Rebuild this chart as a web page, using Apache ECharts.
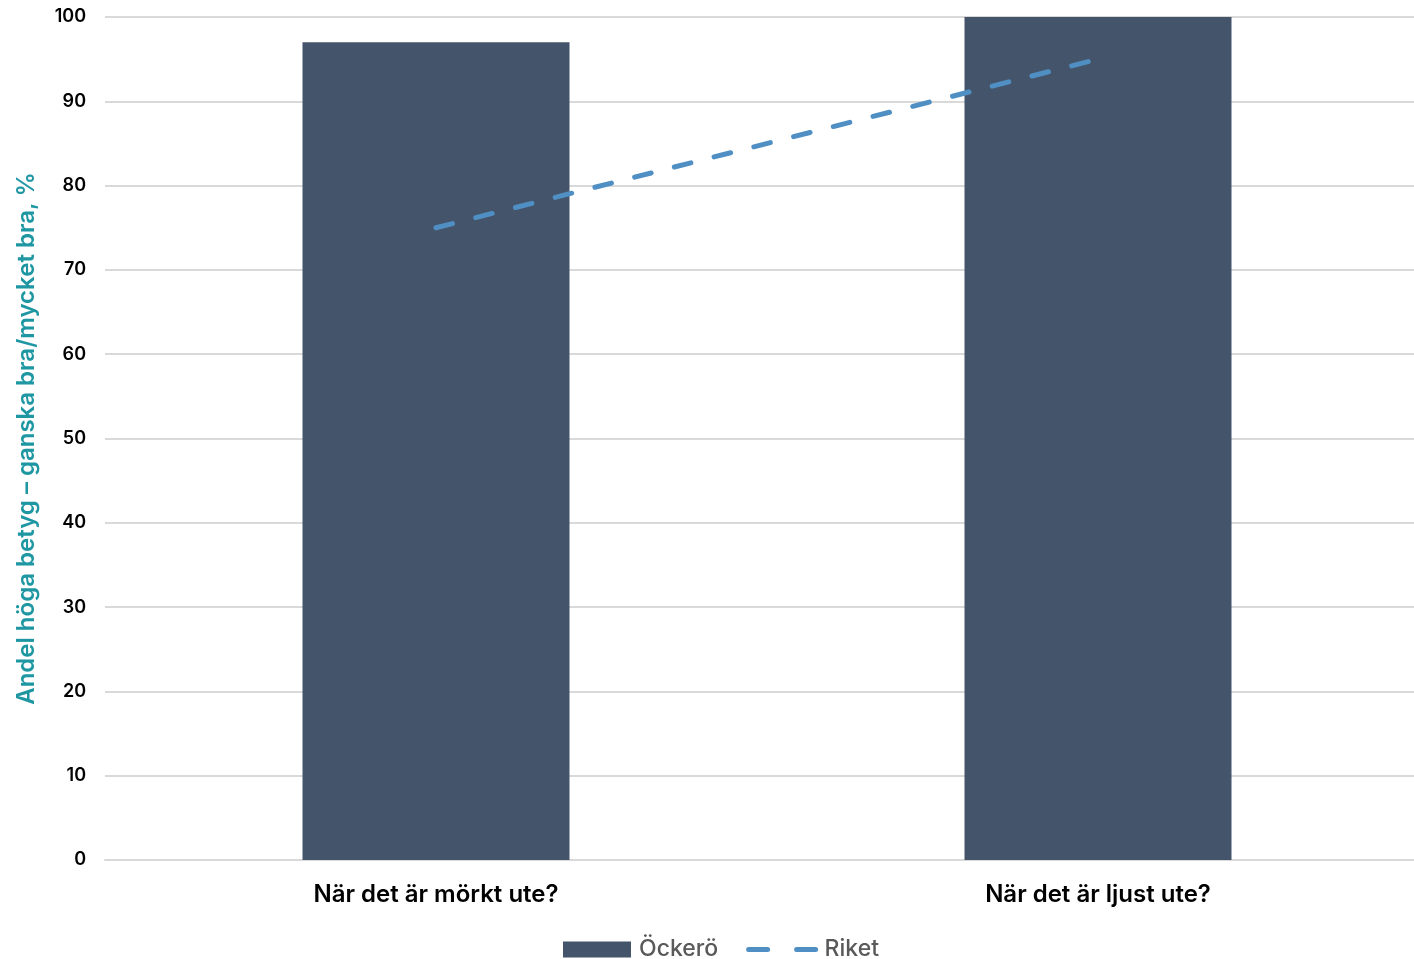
<!DOCTYPE html>
<html>
<head>
<meta charset="utf-8">
<script src="https://cdn.jsdelivr.net/npm/echarts@6/dist/echarts.min.js"></script>
<style>
html,body{margin:0;padding:0;background:#fff;}
#chart{width:1414px;height:959px;}
</style>
</head>
<body>
<div id="chart"></div>
<script>
const categories = ['När det är mörkt ute?', 'När det är ljust ute?'];
const ockeroValues = [97, 100];
const riketValues = [75, 95];
const seriesNames = ['Öckerö', 'Riket'];
const yAxisTitle = 'Andel höga betyg – ganska bra/mycket bra, %';

const chart = echarts.init(document.getElementById('chart'));
chart.setOption({
  animation: false,
  textStyle: { fontFamily: 'Inter, "Liberation Sans", sans-serif' },
  grid: { left: 105, width: 1324, top: 17, bottom: 99, outerBoundsMode: 'none', containLabel: false },
  legend: {
    top: 933,
    left: 558,
    itemWidth: 68,
    itemHeight: 16,
    itemGap: 28,
    textStyle: { fontSize: 23, color: '#595959', fontWeight: 500, padding: [0, 0, 0, 3] },
    data: [
      { name: seriesNames[0], icon: 'rect' },
      { name: seriesNames[1], icon: 'inherit',
        itemStyle: { color: 'rgba(0,0,0,0)', borderColor: 'rgba(0,0,0,0)', borderWidth: 0 },
        lineStyle: { width: 5, type: [19, 29], cap: 'round', color: '#4f8fc4' } }
    ]
  },
  xAxis: {
    type: 'category',
    data: categories,
    axisLine: { show: true, lineStyle: { color: '#d9d9d9', width: 2 } },
    axisTick: { show: false },
    axisLabel: { fontSize: 24, color: '#000', fontWeight: 600, margin: 23 }
  },
  yAxis: {
    type: 'value',
    min: 0,
    max: 100,
    interval: 10,
    name: yAxisTitle,
    nameLocation: 'middle',
    nameGap: 66,
    nameTextStyle: { fontSize: 24, color: '#1e97a3', fontWeight: 600 },
    axisLine: { show: false },
    axisTick: { show: false },
    axisLabel: { fontSize: 18, color: '#000', fontWeight: 600, margin: 19 },
    splitLine: { lineStyle: { color: '#d9d9d9', width: 2 } }
  },
  series: [
    {
      name: seriesNames[0],
      type: 'bar',
      data: ockeroValues,
      barWidth: 267,
      itemStyle: { color: '#44546a' }
    },
    {
      name: seriesNames[1],
      type: 'line',
      data: riketValues,
      symbol: 'none',
      lineStyle: { color: '#4f8fc4', width: 5, type: [17, 24], cap: 'round' },
      itemStyle: { color: '#4f8fc4' }
    }
  ]
});
</script>
</body>
</html>
